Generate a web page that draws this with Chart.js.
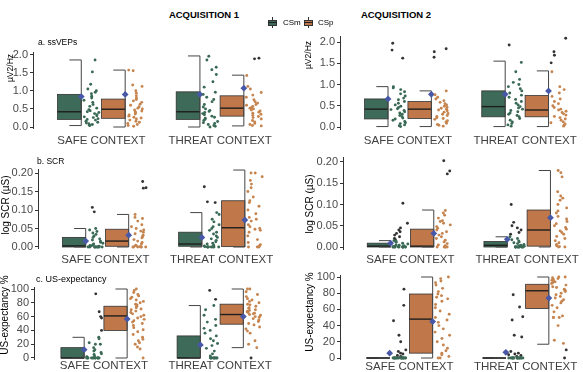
<!DOCTYPE html>
<html><head><meta charset="utf-8">
<script src="https://cdn.jsdelivr.net/npm/chart.js@4.4.0/dist/chart.umd.min.js"></script>
<style>
html,body{margin:0;padding:0;width:583px;height:372px;overflow:hidden;background:#fff;font-family:"Liberation Sans",Arial,sans-serif;}
.t{position:absolute;white-space:nowrap;color:#000;line-height:1;}
canvas{position:absolute;}
</style></head><body>
<script>
// ---------- DATA ----------
const contexts = ["SAFE CONTEXT", "THREAT CONTEXT"];
const groups = ["CSm", "CSp"];

const ssvepTicks = [0, 0.5, 1, 1.5, 2];
const ssvepTickLabels = ["0.0", "0.5", "1.0", "1.5", "2.0"];
const scrTicks = [0, 0.05, 0.10, 0.15, 0.20];
const scrTickLabels = ["0.00", "0.05", "0.10", "0.15", "0.20"];
const usTicks = [0, 20, 40, 60, 80, 100];
const usTickLabels = ["0", "20", "40", "60", "80", "100"];

// box stats per group: [lower whisker, q1, median, q3, upper whisker]; order SAFE CSm, SAFE CSp, THREAT CSm, THREAT CSp
const ssvep1Boxes = [[0.04,0.21,0.42,0.90,1.85],[0.0,0.24,0.49,0.77,1.57],[0.0,0.21,0.42,0.97,1.96],[0.03,0.30,0.52,0.86,1.43]];
const ssvep1Means = [0.84, 0.90, 0.90, 1.07];
const ssvep2Boxes = [[0.01,0.19,0.42,0.66,0.95],[0.01,0.20,0.42,0.60,0.85],[0.01,0.24,0.48,0.85,1.55],[0.01,0.24,0.40,0.74,1.32]];
const ssvep2Means = [0.66, 0.77, 0.77, 0.85];
const scr1Boxes = [[0,0,0.003,0.026,0.05],[0,0.002,0.016,0.048,0.088],[0,0.002,0.008,0.04,0.093],[0,0.001,0.052,0.125,0.208]];
const scr1Means = [0.016, 0.032, 0.026, 0.073];
const scr2Boxes = [[0,0,0.002,0.009,0.015],[0,0,0.002,0.042,0.087],[0,0,0.004,0.013,0.024],[0,0.002,0.04,0.087,0.18]];
const scr2Means = [0.009, 0.032, 0.018, 0.069];
const us1Boxes = [[0,0,0,15,30],[0,40,61,75,100],[0,0,0,32,76],[15,49,63,78,100]];
const us1Means = [12, 56.5, 19, 60];
const us2Boxes = [[0,0,0,0,0],[0,6,48,79,100],[0,0,0,0,0],[17,61,83,91,100]];
const us2Means = [6, 45, 7, 74];

// individual values
const ssvep1SafeCSm = [1.85,1.52,1.18,1.05,1.0,0.96,0.92,0.85,0.8,0.74,0.68,0.62,0.57,0.52,0.48,0.45,0.42,0.4,0.37,0.34,0.31,0.28,0.26,0.23,0.21,0.19,0.16,0.13,0.11,0.09,0.07,0.05,0.04];
const ssvep1SafeCSp = [1.57,1.55,1.16,1.12,1.0,0.93,0.86,0.8,0.76,0.72,0.68,0.63,0.6,0.56,0.52,0.5,0.47,0.44,0.42,0.39,0.36,0.33,0.3,0.27,0.25,0.22,0.19,0.16,0.13,0.1,0.07,0.04,0.02];
const ssvep1ThreatCSm = [1.95,1.85,1.65,1.58,1.45,1.25,1.1,0.96,0.9,0.82,0.76,0.7,0.62,0.55,0.5,0.46,0.43,0.4,0.37,0.34,0.3,0.27,0.24,0.21,0.18,0.15,0.12,0.1,0.07,0.04,0.02,0.0];
const ssvep1ThreatCSp = [1.9,1.88,1.42,1.12,1.05,0.95,0.88,0.82,0.75,0.7,0.66,0.62,0.6,0.57,0.54,0.52,0.5,0.47,0.44,0.41,0.38,0.35,0.32,0.29,0.26,0.22,0.18,0.14,0.1,0.07,0.04,0.03];

const ssvep2SafeCSm = [1.97,1.81,1.62,0.95,0.92,0.88,0.83,0.78,0.73,0.68,0.64,0.6,0.56,0.52,0.49,0.46,0.43,0.41,0.39,0.36,0.33,0.3,0.27,0.24,0.21,0.19,0.16,0.13,0.1,0.08,0.05,0.03,0.01];
const ssvep2SafeCSp = [1.84,1.77,1.64,0.85,0.76,0.7,0.66,0.62,0.58,0.55,0.52,0.49,0.46,0.44,0.42,0.4,0.38,0.35,0.32,0.3,0.27,0.25,0.22,0.2,0.18,0.15,0.12,0.09,0.06,0.04,0.02];
const ssvep2ThreatCSm = [1.93,1.52,1.3,1.12,1.05,1.0,0.95,0.9,0.85,0.8,0.75,0.7,0.65,0.6,0.56,0.52,0.48,0.45,0.42,0.39,0.36,0.33,0.3,0.27,0.24,0.2,0.16,0.12,0.08,0.05,0.02];
const ssvep2ThreatCSp = [2.09,1.77,1.69,1.51,1.3,0.95,0.88,0.8,0.72,0.66,0.6,0.55,0.5,0.46,0.42,0.4,0.37,0.34,0.31,0.28,0.25,0.22,0.19,0.16,0.12,0.1,0.07,0.04,0.02];

const scr1SafeCSm = [0.107,0.095,0.05,0.046,0.042,0.038,0.034,0.03,0.026,0.022,0.019,0.016,0.013,0.01,0.008,0.006,0.004,0.003,0.002,0.001,0,0,0,0,0,0,0,0,0,0];
const scr1SafeCSp = [0.177,0.16,0.159,0.088,0.08,0.077,0.07,0.06,0.055,0.05,0.046,0.043,0.04,0.036,0.032,0.028,0.025,0.02,0.016,0.012,0.008,0.005,0.003,0.001,0,0,0,0,0,0];
const scr1ThreatCSm = [0.163,0.122,0.12,0.093,0.088,0.075,0.068,0.06,0.055,0.05,0.045,0.04,0.035,0.03,0.026,0.022,0.018,0.014,0.01,0.008,0.005,0.003,0.001,0,0,0,0,0,0,0];
const scr1ThreatCSp = [0.2,0.2,0.19,0.18,0.17,0.16,0.15,0.135,0.125,0.12,0.11,0.1,0.09,0.08,0.075,0.07,0.06,0.055,0.05,0.048,0.045,0.04,0.03,0.02,0.012,0.006,0.003,0,0,0];

const scr2SafeCSm = [0.103,0.056,0.045,0.04,0.036,0.032,0.028,0.024,0.02,0.017,0.015,0.013,0.011,0.009,0.007,0.005,0.004,0.003,0.002,0.001,0,0,0,0,0,0,0,0,0,0,0,0];
const scr2SafeCSp = [0.203,0.179,0.172,0.086,0.08,0.075,0.068,0.062,0.06,0.056,0.052,0.048,0.044,0.04,0.036,0.032,0.028,0.024,0.02,0.016,0.012,0.008,0.005,0.003,0.001,0,0,0,0,0];
const scr2ThreatCSm = [0.1,0.058,0.05,0.045,0.04,0.034,0.03,0.024,0.02,0.017,0.014,0.012,0.01,0.008,0.006,0.004,0.003,0.002,0.001,0,0,0,0,0,0,0,0,0,0,0];
const scr2ThreatCSp = [0.18,0.175,0.165,0.13,0.12,0.115,0.11,0.1,0.092,0.085,0.08,0.072,0.066,0.06,0.055,0.05,0.046,0.042,0.038,0.034,0.03,0.025,0.02,0.015,0.01,0.006,0.003,0.001,0,0];

const us1SafeCSm = [93,67,60,58,40,30,28,22,20,20,15,12,10,8,6,5,3,2,0,0,0,0,0,0,0,0,0,0,0,0];
const us1SafeCSp = [100,98,95,92,90,88,86,84,82,80,78,77,75,73,71,70,68,66,64,62,60,58,56,54,52,50,47,44,41,38,34,30,27,25,22,20,16,13,0];
const us1ThreatCSm = [98,85,76,70,62,56,52,47,43,40,36,32,28,25,21,18,14,10,6,3,0,0,0,0,0,0,0,0,0];
const us1ThreatCSp = [100,100,96,92,89,86,84,82,80,78,77,75,73,72,70,69,68,67,66,65,64,63,62,60,59,57,55,53,50,48,45,42,39,36,25,20,15,0];

const us2SafeCSm = [85,65,46,28,20,10,8,6,5,3,2,0,0,0,0,0,0,0,0,0,0,0,0,0,0,0,0,0,0,0];
const us2SafeCSp = [100,98,95,93,90,86,82,79,77,75,73,70,66,62,58,54,50,47,44,40,36,32,28,24,20,16,12,9,6,4,2,0,0];
const us2ThreatCSm = [78,63,51,47,28,26,8,6,5,4,3,2,0,0,0,0,0,0,0,0,0,0,0,0,0,0,0,0,0];
const us2ThreatCSp = [100,100,99,98,97,96,95,94,93,92,90,88,87,85,84,83,82,80,78,76,74,72,70,68,65,62,57,52,50,50,50,40,22,18,10,0];

// ---------- STYLE / LAYOUT ----------
const FONT = '"Liberation Sans", Arial, sans-serif';
const BOX_COL = ['#3e6b59', '#c0784b'];
const PT_COL = ['#3a6a56', '#c6844f'];
const DARK = '#333333';
const BLUE = '#4858a8';
const groupOffsets = [{box: [-0.37, -0.17], pts: [-0.15, -0.02]}, {box: [0.0, 0.2], pts: [0.22, 0.35]}];

const panels = [
  {axisX:33, c1:102.5, c2:223, y0:127, topTick:2, topTickPx:54.5, ymin:-0.05, ymax:2.05, ticks:ssvepTicks, labels:ssvepTickLabels,
   pts:[ssvep1SafeCSm, ssvep1SafeCSp, ssvep1ThreatCSm, ssvep1ThreatCSp], boxes:ssvep1Boxes, means:ssvep1Means, xh:30, xpad:5},
  {axisX:340, c1:409, c2:528, y0:127, topTick:2, topTickPx:42, ymin:-0.05, ymax:2.12, ticks:ssvepTicks, labels:ssvepTickLabels,
   pts:[ssvep2SafeCSm, ssvep2SafeCSp, ssvep2ThreatCSm, ssvep2ThreatCSp], boxes:ssvep2Boxes, means:ssvep2Means, xh:30, xpad:5},
  {axisX:38, c1:106.5, c2:224.5, y0:247, topTick:0.2, topTickPx:173, ymin:-0.005, ymax:0.21, ticks:scrTicks, labels:scrTickLabels,
   pts:[scr1SafeCSm, scr1SafeCSp, scr1ThreatCSm, scr1ThreatCSp], boxes:scr1Boxes, means:scr1Means, xh:28, xpad:4},
  {axisX:343, c1:411.5, c2:530, y0:247, topTick:0.2, topTickPx:162, ymin:-0.005, ymax:0.21, ticks:scrTicks, labels:scrTickLabels,
   pts:[scr2SafeCSm, scr2SafeCSp, scr2ThreatCSm, scr2ThreatCSp], boxes:scr2Boxes, means:scr2Means, xh:28, xpad:4},
  {axisX:34, c1:105, c2:223, y0:358, topTick:100, topTickPx:289, ymin:-2, ymax:102, ticks:usTicks, labels:usTickLabels,
   pts:[us1SafeCSm, us1SafeCSp, us1ThreatCSm, us1ThreatCSp], boxes:us1Boxes, means:us1Means, xh:20, xpad:0},
  {axisX:340, c1:410.5, c2:528.5, y0:358, topTick:100, topTickPx:277, ymin:-2, ymax:102, ticks:usTicks, labels:usTickLabels,
   pts:[us2SafeCSm, us2SafeCSp, us2ThreatCSm, us2ThreatCSp], boxes:us2Boxes, means:us2Means, xh:20, xpad:0}
];

// deterministic horizontal jitter (position only, not data)
function jitter(i, k) {
  const v = Math.sin((i + 1) * 12.9898 + (k + 1) * 78.233) * 43758.5453;
  return v - Math.floor(v);
}

const boxPlugin = {
  id: 'halfbox',
  beforeDatasetsDraw(chart) {
    const cfg = chart.options.plugins.halfbox;
    const xs = chart.scales.x, ys = chart.scales.y, ctx = chart.ctx;
    ctx.save();
    cfg.boxes.forEach((b, k) => {
      const ci = Math.floor(k / 2), gi = k % 2, off = groupOffsets[gi];
      const c = 1 + ci;
      const xl = xs.getPixelForValue(c + off.box[0]);
      const xr = xs.getPixelForValue(c + off.box[1]);
      const xm = (xl + xr) / 2;
      const yLo = ys.getPixelForValue(b[0]), yQ1 = ys.getPixelForValue(b[1]);
      const yMed = ys.getPixelForValue(b[2]), yQ3 = ys.getPixelForValue(b[3]);
      const yHi = ys.getPixelForValue(b[4]);
      ctx.fillStyle = BOX_COL[gi];
      ctx.fillRect(xl, yQ3, xr - xl, yQ1 - yQ3);
      ctx.strokeStyle = '#333';
      ctx.lineWidth = 0.8;
      ctx.strokeRect(xl, yQ3, xr - xl, yQ1 - yQ3);
      ctx.lineWidth = 1.4;
      ctx.strokeStyle = '#1e1e1e';
      ctx.beginPath(); ctx.moveTo(xl, yMed); ctx.lineTo(xr, yMed); ctx.stroke();
      // whisker bracket
      ctx.lineWidth = 1;
      ctx.strokeStyle = '#454545';
      ctx.beginPath();
      ctx.moveTo(xm, yHi); ctx.lineTo(xr, yHi); ctx.lineTo(xr, yLo); ctx.lineTo(xm, yLo);
      ctx.stroke();
    });
    ctx.restore();
  }
};

function makePanel(p, pi) {
  const s = p.c2 - p.c1;
  const xmin = 1 - (p.c1 - p.axisX) / s;
  const ppu = (p.y0 - p.topTickPx) / p.topTick;
  const top = p.y0 - p.ymax * ppu;
  const bottom = p.y0 - p.ymin * ppu;
  const yw = 34;
  const left = p.axisX - yw;
  const cTop = Math.floor(top) - 8;
  const padTop = top - cTop;
  const W = Math.ceil(p.axisX + (2.6 - xmin) * s) - left;
  const H = Math.ceil(bottom + p.xh - cTop);
  const xh = H - (bottom - cTop);
  const xmax = xmin + (W - yw) / s;
  const cv = document.createElement('canvas');
  cv.width = W; cv.height = H;
  cv.style.left = left + 'px'; cv.style.top = cTop + 'px';
  cv.style.width = W + 'px'; cv.style.height = H + 'px';
  document.body.appendChild(cv);

  const datasets = [];
  p.pts.forEach((vals, k) => {
    const ci = Math.floor(k / 2), gi = k % 2, off = groupOffsets[gi], b = p.boxes[k];
    const eps = (p.ymax - p.ymin) * 0.002;
    const data = vals.map((v, i) => ({x: 1 + ci + off.pts[0] + jitter(i, k + pi * 4) * (off.pts[1] - off.pts[0]), y: v}));
    const cols = vals.map(v => (v > b[4] + eps || v < b[0] - eps) ? DARK : PT_COL[gi]);
    datasets.push({type: 'scatter', data, pointRadius: 1.45, pointBorderWidth: 0, pointBackgroundColor: cols, pointHoverRadius: 1.45, clip: 12});
  });
  const meanData = p.means.map((m, k) => {
    const ci = Math.floor(k / 2), gi = k % 2;
    return {x: 1 + ci + groupOffsets[gi].box[1], y: m};
  });
  datasets.push({type: 'scatter', data: meanData, pointStyle: 'rectRot', pointRadius: 3.4, pointBorderWidth: 0, pointBackgroundColor: BLUE, clip: 12});

  new Chart(cv, {
    type: 'scatter',
    data: {datasets},
    plugins: [boxPlugin],
    options: {
      responsive: false, animation: false, events: [], devicePixelRatio: 1,
      layout: {padding: {top: padTop, left: 0, right: 0, bottom: 0}},
      plugins: {legend: {display: false}, tooltip: {enabled: false}, halfbox: {boxes: p.boxes}},
      scales: {
        x: {
          type: 'linear', min: xmin, max: xmax,
          grid: {display: false, drawTicks: false}, border: {display: false},
          afterBuildTicks: sc => { sc.ticks = [{value: 1}, {value: 2}]; },
          afterFit: sc => { sc.height = xh; sc.paddingLeft = 0; sc.paddingRight = 0; },
          ticks: {autoSkip: false, maxRotation: 0, padding: p.xpad, color: '#3f3f3f',
                  font: {family: FONT, size: 11.5}, callback: v => contexts[v - 1]}
        },
        y: {
          type: 'linear', min: p.ymin, max: p.ymax,
          grid: {display: true, drawOnChartArea: false, drawTicks: true, tickLength: 3, color: '#333', lineWidth: 1},
          border: {display: true, color: '#333', width: 1},
          afterBuildTicks: sc => { sc.ticks = p.ticks.map(v => ({value: v})); },
          afterFit: sc => { sc.width = yw; sc.paddingTop = 0; sc.paddingBottom = 0; },
          ticks: {autoSkip: false, padding: 2, color: '#4a4a4a', font: {family: FONT, size: 11},
                  callback: (v, i) => p.labels[i]}
        }
      }
    }
  });
}
panels.forEach(makePanel);

// ---------- TEXT ----------
function txt(s, x, y, size, opts = {}) {
  const d = document.createElement('div');
  d.className = 't';
  d.textContent = s;
  d.style.fontSize = size + 'px';
  if (opts.bold) d.style.fontWeight = 'bold';
  d.style.left = x + 'px'; d.style.top = y + 'px';
  let tr = 'translate(' + (opts.anchor === 'left' ? '0' : '-50%') + ',-50%)';
  if (opts.rot) tr += ' rotate(-90deg)';
  d.style.transform = tr;
  document.body.appendChild(d);
}
txt('ACQUISITION 1', 204, 15, 9.5, {bold: true});
txt('ACQUISITION 2', 396, 15, 9.5, {bold: true});
txt('a. ssVEPs', 38, 42, 8.5, {anchor: 'left'});
txt('b. SCR', 37, 160.5, 8.5, {anchor: 'left'});
txt('c. US-expectancy', 36, 279, 9, {anchor: 'left'});
txt('\u00b5V2/Hz', 10, 68, 8.5, {rot: true});
txt('\u00b5V2/Hz', 308, 55, 8.5, {rot: true});
txt('log SCR (\u00b5S)', 6, 205, 10, {rot: true});
txt('log SCR (\u00b5S)', 310, 204, 10, {rot: true});
txt('US-expectancy %', 5, 315, 10, {rot: true});
txt('US-expectancy %', 310, 312, 10, {rot: true});

// legend
function legendKey(x, color) {
  const w = 9, h = 11, top = 17;
  const line = document.createElement('div');
  line.style.cssText = `position:absolute;left:${x + w / 2 - 0.5}px;top:${top}px;width:1px;height:${h}px;background:#333;`;
  const box = document.createElement('div');
  box.style.cssText = `position:absolute;left:${x}px;top:${top + 2.5}px;width:${w - 2}px;height:${h - 7}px;background:${color};border:1px solid #333;`;
  const med = document.createElement('div');
  med.style.cssText = `position:absolute;left:${x}px;top:${top + h / 2 - 0.5}px;width:${w}px;height:1px;background:#222;`;
  document.body.appendChild(line); document.body.appendChild(box); document.body.appendChild(med);
}
legendKey(268, BOX_COL[0]);
txt(groups[0], 283, 22.5, 8, {anchor: 'left'});
legendKey(304, BOX_COL[1]);
txt(groups[1], 318, 22.5, 8, {anchor: 'left'});
</script>
</body></html>
